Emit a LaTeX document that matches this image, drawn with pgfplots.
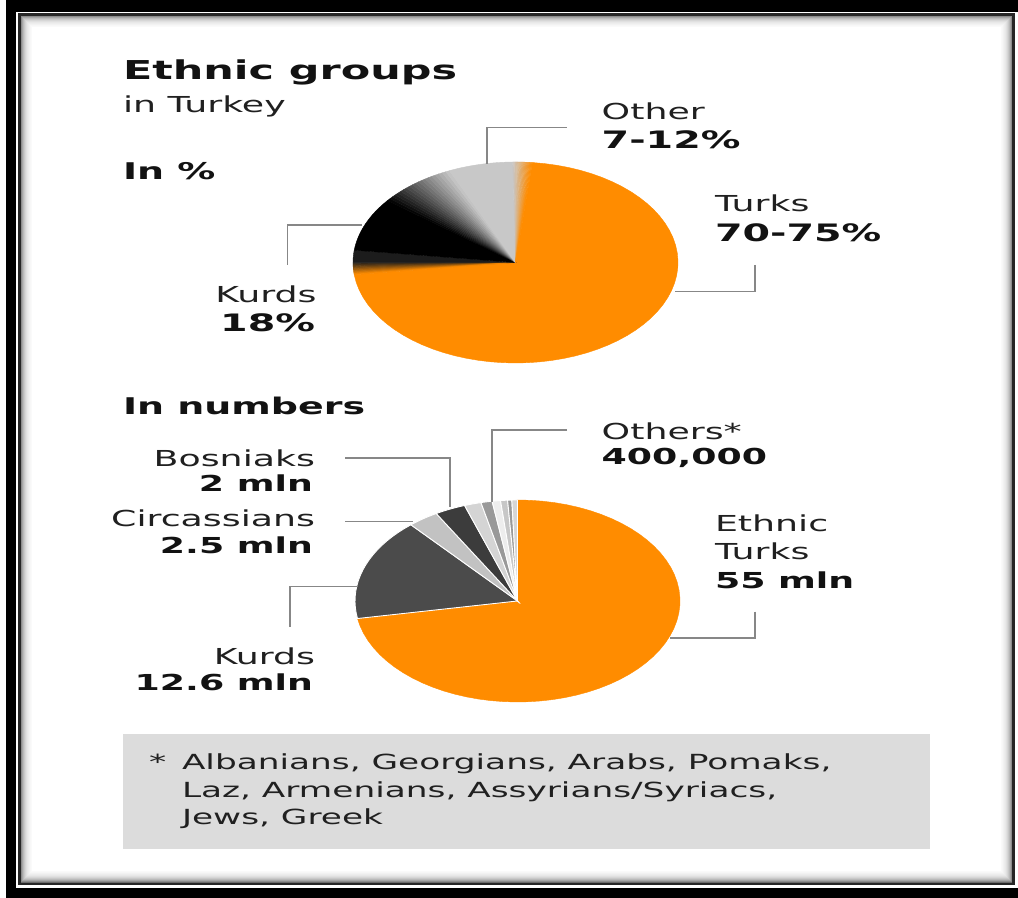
\documentclass[border=0pt]{standalone}
\usepackage{fontspec}
\setmainfont{DejaVu Sans}
\usepackage{graphicx}
\usepackage{pgfplots}
\pgfplotsset{compat=1.18}
\definecolor{pieor}{RGB}{255,140,0}
\definecolor{pdark}{RGB}{28,28,28}
\definecolor{pgray}{RGB}{200,200,200}
\definecolor{kurd}{RGB}{75,75,75}
\definecolor{circ}{RGB}{194,194,194}
\definecolor{bosn}{RGB}{60,60,60}
\definecolor{boxgray}{RGB}{220,220,220}
\definecolor{txt}{RGB}{32,32,32}
\definecolor{txtb}{RGB}{18,18,18}
\definecolor{leadc}{RGB}{135,135,135}
\newcommand\sx[1]{\scalebox{1.65}[1]{#1}}
% one pie slice between two angles (degrees), unit circle
\newcommand\pieslice[3]{%
  \addplot[fill=#3, draw=#3, line width=0.2pt, domain=#1:#2, samples=60] ({cos(x)},{sin(x)}) -- (0,0) -- cycle;}
\newcommand\pieslicew[3]{%
  \addplot[fill=#3, draw=white, line width=0.45pt, domain=#1:#2, samples=20] ({cos(x)},{sin(x)}) -- (0,0) -- cycle;}
\begin{document}
\begin{tikzpicture}[
  reg/.style={inner sep=0pt, outer sep=0pt, text=txt, font=\fontsize{11pt}{13pt}\selectfont},
  bld/.style={inner sep=0pt, outer sep=0pt, text=txtb, font=\fontsize{12pt}{14pt}\selectfont\bfseries},
  bldb/.style={inner sep=0pt, outer sep=0pt, text=txtb, font=\fontsize{11pt}{13pt}\selectfont\bfseries},
  head/.style={inner sep=0pt, outer sep=0pt, text=txtb, font=\fontsize{11.5pt}{13pt}\selectfont\bfseries},
  foot/.style={inner sep=0pt, outer sep=0pt, text=txt, font=\fontsize{10.4pt}{12pt}\selectfont},
  leader/.style={draw=leadc, line width=0.8pt}]
% ---------- background and frame ----------
\begin{scope}[x=0.5pt,y=-0.5pt,yshift=449pt]
  \fill[white] (0,0) rectangle (1018,898);
  \fill[black] (6,0) rectangle (1018,12);
  \fill[black] (6,0) rectangle (16,898);
  \fill[black] (6,888) rectangle (1018,898);
  \foreach \o/\c in {12/2, 11/3, 10/5, 9/7, 8/9, 7/12, 6/16, 5/21, 4/27, 3/35, 2/45, 1/58}{
    \draw[black!\c, line width=0.6pt] (19.5+\o,14.5+\o) rectangle (1013.5-\o,884-\o);}
  \draw[black!85, line width=1.3pt] (19.5,14.5) rectangle (1013.5,884);
  \fill[boxgray] (123,734) rectangle (930,849);
\end{scope}
% ---------- top pie: In % ----------
\begin{axis}[at={(257.75pt,317.75pt)}, anchor=center, scale only axis,
  width=162.5pt, height=100.5pt, xmin=-1, xmax=1, ymin=-1, ymax=1,
  hide axis, clip=false]
  % Turks 73 %, Kurds 18 %, Other 9 % (angles, clockwise from the top)
  \pieslice{-173}{84}{pieor}
  \pgfplotsinvokeforeach{2.5,7.5,...,97.5}{%
    \addplot[fill=pieor!#1!pdark, draw=pieor!#1!pdark, line width=0.15pt,
      domain=179.825+0.07*#1:180.175+0.07*#1, samples=2] ({cos(x)},{sin(x)}) -- (0,0) -- cycle;}
  \pieslice{173}{180}{pdark}
  \pieslice{142}{173}{black}
  \pgfplotsinvokeforeach{2.5,7.5,...,97.5}{%
    \addplot[fill=pgray!#1!black, draw=pgray!#1!black, line width=0.15pt,
      domain=141.3-0.28*#1:142.7-0.28*#1, samples=3] ({cos(x)},{sin(x)}) -- (0,0) -- cycle;}
  \pieslice{91}{114}{pgray}
  \pgfplotsinvokeforeach{2.5,7.5,...,97.5}{%
    \addplot[fill=pieor!#1!pgray, draw=pieor!#1!pgray, line width=0.15pt,
      domain=90.825-0.07*#1:91.175-0.07*#1, samples=2] ({cos(x)},{sin(x)}) -- (0,0) -- cycle;}
\end{axis}
% ---------- bottom pie: In numbers ----------
\begin{axis}[at={(258.75pt,148.5pt)}, anchor=center, scale only axis,
  width=162.5pt, height=101pt, xmin=-1, xmax=1, ymin=-1, ymax=1,
  hide axis, clip=false]
  \pieslice{-170}{90}{pieor}
  \pieslicew{131}{190}{kurd}
  \pieslicew{120}{131}{circ}
  \pieslicew{109}{120}{bosn}
  \pieslicew{103}{109}{black!17}
  \pieslicew{99}{103}{black!40}
  \pieslicew{96}{99}{black!7}
  \pieslicew{93.5}{96}{black!22}
  \pieslicew{92}{93.5}{black!40}
  \pieslicew{90}{92}{black!16}
\end{axis}
% ---------- leaders and texts ----------
\begin{scope}[x=0.5pt,y=-0.5pt,yshift=449pt]
  \draw[leader] (566.7,127.7) -- (486.7,127.7) -- (486.7,164);
  \draw[leader] (362,225) -- (287.3,225) -- (287.3,265);
  \draw[leader] (755,265) -- (755,291.7) -- (675,291.7);
  \draw[leader] (567,430) -- (491.7,430) -- (491.7,502);
  \draw[leader] (345,458.3) -- (450,458.3) -- (450,507);
  \draw[leader] (345,521.7) -- (413,521.7);
  \draw[leader] (358,586.7) -- (290,586.7) -- (290,626.7);
  \draw[leader] (755,611.7) -- (755,638.3) -- (670,638.3);

  \node[bld, anchor=base west, font=\fontsize{13pt}{15pt}\selectfont\bfseries] at (123,79.5) {\sx{Ethnic groups}};
  \node[reg, anchor=base west] at (123,112.7) {\sx{in Turkey}};
  \node[head, anchor=base west] at (123,179.3) {\sx{In \%}};
  \node[reg, anchor=base west] at (601.7,119.3) {\sx{Other}};
  \node[bld, anchor=base west] at (601.7,148.3) {\sx{7-12\%}};
  \node[reg, anchor=base west] at (715,211.7) {\sx{Turks}};
  \node[bld, anchor=base west] at (715,241.7) {\sx{70-75\%}};
  \node[reg, anchor=base east] at (316.5,302.7) {\sx{Kurds}};
  \node[bld, anchor=base east] at (315,331.7) {\sx{18\%}};

  \node[head, anchor=base west] at (123,415) {\sx{In numbers}};
  \node[reg, anchor=base west] at (601.7,439.3) {\sx{Others*}};
  \node[bldb, anchor=base west] at (601.7,465) {\sx{400,000}};
  \node[reg, anchor=base east] at (315,466.7) {\sx{Bosniaks}};
  \node[bldb, anchor=base east] at (313,491.7) {\sx{2 mln}};
  \node[reg, anchor=base east] at (315,526.7) {\sx{Circassians}};
  \node[bldb, anchor=base east] at (313,553.3) {\sx{2.5 mln}};
  \node[reg, anchor=base east] at (315,665) {\sx{Kurds}};
  \node[bldb, anchor=base east] at (313,690.7) {\sx{12.6 mln}};
  \node[reg, anchor=base west] at (715,531.7) {\sx{Ethnic}};
  \node[reg, anchor=base west] at (715,559.3) {\sx{Turks}};
  \node[bldb, anchor=base west] at (715,588.3) {\sx{55 mln}};

  \node[foot, anchor=base west] at (149,770) {\sx{*}};
  \node[foot, anchor=base west] at (182,770) {\sx{Albanians, Georgians, Arabs, Pomaks,}};
  \node[foot, anchor=base west] at (182,798) {\sx{Laz, Armenians, Assyrians/Syriacs,}};
  \node[foot, anchor=base west] at (182,825) {\sx{Jews, Greek}};
\end{scope}
\end{tikzpicture}
\end{document}
